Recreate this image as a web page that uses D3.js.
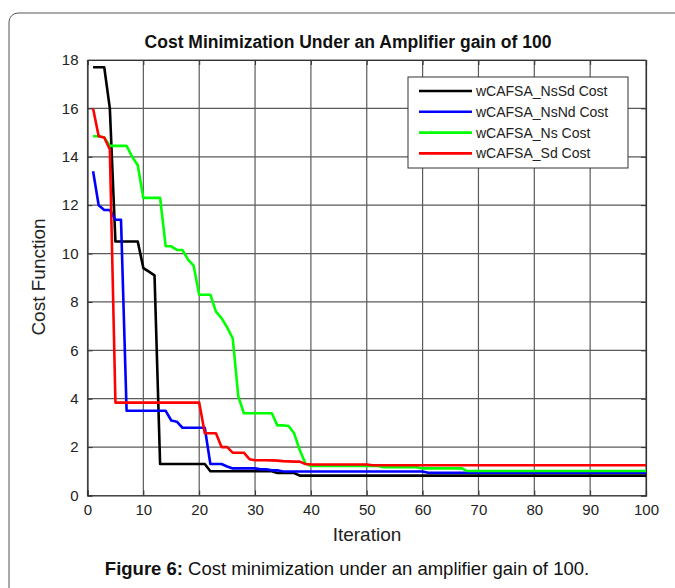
<!DOCTYPE html>
<html><head><meta charset="utf-8">
<script src="https://cdn.jsdelivr.net/npm/d3@7"></script>
<style>body{margin:0;background:#fff;}svg{display:block;font-family:"Liberation Sans",Arial,sans-serif;}</style>
</head><body>
<svg id="c" width="675" height="588"></svg>
<script>
const iterations = d3.range(1, 101);
const seriesNames = ["wCAFSA_NsSd Cost","wCAFSA_NsNd Cost","wCAFSA_Ns Cost","wCAFSA_Sd Cost"];
const seriesColors = ["#000000","#0000ff","#00ff00","#ff0000"];
const xTicks = [0,10,20,30,40,50,60,70,80,90,100];
const yTicks = [0,2,4,6,8,10,12,14,16,18];

const nsSd = [17.7,17.7,17.7,16.0,10.5,10.5,10.5,10.5,10.5,9.4,
9.25,9.1,1.3,1.3,1.3,1.3,1.3,1.3,1.3,1.3,
1.3,1.0,1.0,1.0,1.0,1.0,1.0,1.0,1.0,1.0,
1.0,1.0,1.0,0.93,0.93,0.93,0.93,0.82,0.82,0.82,
0.82,0.82,0.82,0.82,0.82,0.82,0.82,0.82,0.82,0.82,
0.82,0.82,0.82,0.82,0.82,0.82,0.82,0.82,0.82,0.82,
0.82,0.82,0.82,0.82,0.82,0.82,0.82,0.82,0.82,0.82,
0.82,0.82,0.82,0.82,0.82,0.82,0.82,0.82,0.82,0.82,
0.82,0.82,0.82,0.82,0.82,0.82,0.82,0.82,0.82,0.82,
0.82,0.82,0.82,0.82,0.82,0.82,0.82,0.82,0.82,0.82];

const nsNd = [13.4,12.0,11.8,11.8,11.4,11.4,3.5,3.5,3.5,3.5,
3.5,3.5,3.5,3.5,3.1,3.05,2.8,2.8,2.8,2.8,
2.8,1.3,1.3,1.3,1.2,1.12,1.12,1.12,1.12,1.12,
1.08,1.08,1.04,1.04,0.99,0.99,0.99,0.99,0.99,0.99,
0.99,0.99,0.99,0.99,0.99,0.99,0.99,0.99,0.99,0.99,
0.99,0.99,0.99,0.99,0.99,0.99,0.99,0.99,0.99,0.99,
0.94,0.94,0.94,0.94,0.94,0.94,0.94,0.94,0.94,0.94,
0.94,0.94,0.94,0.94,0.94,0.94,0.94,0.94,0.94,0.94,
0.94,0.94,0.94,0.94,0.94,0.94,0.94,0.94,0.94,0.94,
0.94,0.94,0.94,0.94,0.94,0.94,0.94,0.94,0.94,0.94];

const ns = [14.85,14.85,14.8,14.45,14.45,14.45,14.45,14.0,13.65,12.3,
12.3,12.3,12.3,10.3,10.3,10.15,10.15,9.75,9.5,8.3,
8.3,8.3,7.6,7.33,6.95,6.5,4.1,3.4,3.4,3.4,
3.4,3.4,3.4,2.9,2.9,2.87,2.57,1.88,1.33,1.22,
1.22,1.22,1.22,1.22,1.22,1.22,1.22,1.22,1.22,1.22,
1.22,1.22,1.17,1.17,1.17,1.17,1.17,1.17,1.17,1.12,
1.12,1.12,1.12,1.12,1.12,1.12,1.12,1.01,1.01,1.01,
1.01,1.01,1.01,1.01,1.01,1.01,1.01,1.01,1.01,1.01,
1.01,1.01,1.01,1.01,1.01,1.01,1.01,1.01,1.01,1.01,
1.01,1.01,1.01,1.01,1.01,1.01,1.01,1.01,1.01,1.01];

const sd = [16.0,14.85,14.8,14.3,3.84,3.84,3.84,3.84,3.84,3.84,
3.84,3.84,3.84,3.84,3.84,3.84,3.84,3.84,3.84,3.84,
2.57,2.57,2.57,2.0,2.0,1.77,1.77,1.77,1.5,1.46,
1.46,1.46,1.45,1.44,1.42,1.41,1.4,1.4,1.3,1.28,
1.28,1.28,1.28,1.28,1.28,1.28,1.28,1.28,1.28,1.28,
1.25,1.25,1.25,1.25,1.25,1.25,1.25,1.25,1.25,1.25,
1.25,1.25,1.25,1.25,1.25,1.25,1.25,1.25,1.25,1.25,
1.25,1.25,1.25,1.25,1.25,1.25,1.25,1.25,1.25,1.25,
1.25,1.25,1.25,1.25,1.25,1.25,1.25,1.25,1.25,1.25,
1.25,1.25,1.25,1.25,1.25,1.25,1.25,1.25,1.25,1.25];

const allSeries = [nsSd, nsNd, ns, sd];

const svg = d3.select("#c");
// outer frame
svg.append("rect").attr("x",9).attr("y",13).attr("width",720).attr("height",640)
  .attr("rx",9).attr("fill","none").attr("stroke","#555").attr("stroke-width",1);

const L=87.5, R=646, T=60, B=495.5;
const x = d3.scaleLinear().domain([0,100]).range([L,R]);
const y = d3.scaleLinear().domain([0,18]).range([B,T]);

const g = svg.append("g");
// grid
g.selectAll(".gx").data(xTicks).join("line").attr("x1",d=>x(d)).attr("x2",d=>x(d))
  .attr("y1",T).attr("y2",B).attr("stroke","#5a5a5a").attr("stroke-width",1.2);
g.selectAll(".gy").data(yTicks).join("line").attr("y1",d=>y(d)).attr("y2",d=>y(d))
  .attr("x1",L).attr("x2",R).attr("stroke","#5a5a5a").attr("stroke-width",1.2);

// axes
const ax = d3.axisBottom(x).tickValues(xTicks).tickSize(-5).tickPadding(9);
const ay = d3.axisLeft(y).tickValues(yTicks).tickSize(-5).tickPadding(9);
const axTop = d3.axisTop(x).tickValues(xTicks).tickSize(-5).tickFormat("");
const ayR = d3.axisRight(y).tickValues(yTicks).tickSize(-5).tickFormat("");
function style(sel){
  sel.selectAll("path").attr("stroke","#333").attr("stroke-width",1.2);
  sel.selectAll("line").attr("stroke","#333");
  sel.selectAll("text").attr("font-size",15).attr("fill","#222").attr("font-family","Liberation Sans, Arial, sans-serif");
}
svg.append("g").attr("transform",`translate(0,${B})`).call(ax).call(style);
svg.append("g").attr("transform",`translate(${L},0)`).call(ay).call(style);
svg.append("g").attr("transform",`translate(0,${T})`).call(axTop).call(style);
svg.append("g").attr("transform",`translate(${R},0)`).call(ayR).call(style);

// lines
const line = d3.line().x((d,i)=>x(iterations[i])).y(d=>y(d));
allSeries.forEach((s,k)=>{
  svg.append("path").datum(s).attr("d",line).attr("fill","none")
    .attr("stroke",seriesColors[k]).attr("stroke-width",2.6).attr("stroke-linejoin","round");
});

// legend
const lg = svg.append("g");
lg.append("rect").attr("x",408).attr("y",77).attr("width",220).attr("height",91)
  .attr("fill","#fff").attr("stroke","#333").attr("stroke-width",1);
seriesNames.forEach((n,k)=>{
  const yy = 91 + k*20.8;
  lg.append("line").attr("x1",419).attr("x2",472).attr("y1",yy).attr("y2",yy)
    .attr("stroke",seriesColors[k]).attr("stroke-width",2.6);
  lg.append("text").attr("x",476).attr("y",yy+5).attr("font-size",14).attr("fill","#222").text(n);
});

// titles
svg.append("text").attr("x",348).attr("y",48).attr("text-anchor","middle")
  .attr("font-size",17.5).attr("font-weight","bold").attr("fill","#111")
  .text("Cost Minimization Under an Amplifier gain of 100");
svg.append("text").attr("x",367).attr("y",541).attr("text-anchor","middle")
  .attr("font-size",19).attr("fill","#222").text("Iteration");
svg.append("text").attr("transform","translate(45,277) rotate(-90)").attr("text-anchor","middle")
  .attr("font-size",19).attr("fill","#222").text("Cost Function");
const cap = svg.append("text").attr("x",347).attr("y",575).attr("text-anchor","middle")
  .attr("font-size",18.5).attr("fill","#111");
cap.append("tspan").attr("font-weight","bold").text("Figure 6:");
cap.append("tspan").text(" Cost minimization under an amplifier gain of 100.");
</script>
</body></html>
